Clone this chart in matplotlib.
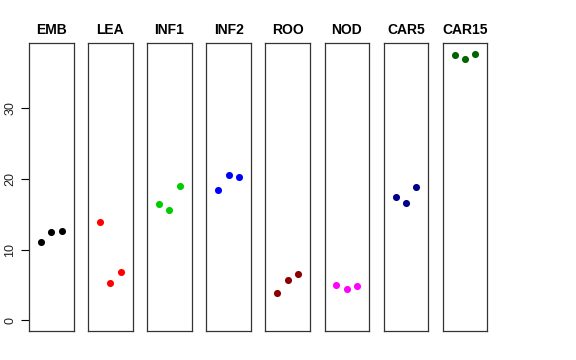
import matplotlib
matplotlib.use("Agg")
import matplotlib.pyplot as plt

plt.rcParams['font.family'] = ['Liberation Sans', 'DejaVu Sans']

groups = ["EMB", "LEA", "INF1", "INF2", "ROO", "NOD", "CAR5", "CAR15"]
colors = ["black", "red", "#00CD00", "blue", "#8B0000", "magenta", "#00008B", "#006400"]
EMB = [11.1, 12.5, 12.6]
LEA = [13.9, 5.3, 6.8]
INF1 = [16.4, 15.6, 19.0]
INF2 = [18.5, 20.6, 20.3]
ROO = [3.9, 5.7, 6.6]
NOD = [5.05, 4.45, 4.9]
CAR5 = [17.4, 16.6, 18.85]
CAR15 = [37.6, 36.95, 37.75]
values = [EMB, LEA, INF1, INF2, ROO, NOD, CAR5, CAR15]
yticks = [0, 10, 20, 30]

W, H = 576, 360
fig = plt.figure(figsize=(W / 100, H / 100), dpi=100)

ymax = max(max(v) for v in values)
ymin = 0
pad = 0.04 * (ymax - ymin)

left0 = 29
step = 59.1
pw = 44.5
top_px = 43
bot_px = 331

for i, (g, c, v) in enumerate(zip(groups, colors, values)):
    x0 = left0 + i * step
    ax = fig.add_axes([x0 / W, 1 - bot_px / H, pw / W, (bot_px - top_px) / H])
    ax.scatter(range(1, len(v) + 1), v, s=26, color=c, zorder=3, linewidths=0)
    ax.set_xlim(0 - 0.16, 4 + 0.16)
    ax.set_ylim(ymin - pad, ymax + pad)
    ax.set_xticks([])
    for sp in ax.spines.values():
        sp.set_linewidth(0.9)
        sp.set_color("#333333")
    ax.text(0.5, 1 + 13 / (bot_px - top_px), g, transform=ax.transAxes,
            ha="center", va="center", fontsize=10, fontweight="bold")
    if i == 0:
        ax.set_yticks(yticks)
        ax.set_yticklabels([str(t) for t in yticks], rotation=90, va="center", fontsize=9)
        ax.tick_params(axis="y", length=6, width=0.8, pad=3, color="black", labelcolor="#222222")
    else:
        ax.set_yticks([])

fig.savefig("out.png", dpi=100)
